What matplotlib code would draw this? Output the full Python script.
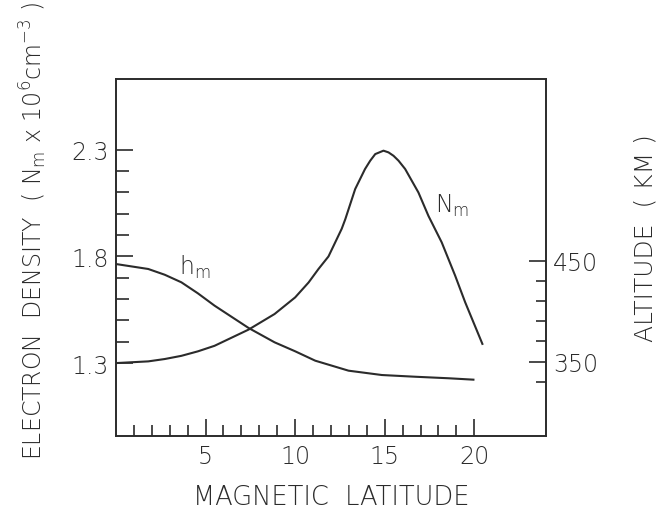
import matplotlib
matplotlib.use("Agg")
import matplotlib.pyplot as plt
from matplotlib.ticker import FixedLocator

plt.rcParams['font.family'] = ['DejaVu Sans']
plt.rcParams['font.weight'] = 'light'
plt.rcParams['mathtext.fontset'] = 'dejavusans'

ink = '#2b2b2b'

# peak electron density vs magnetic latitude (left axis)
lat_nm = [0, 1.8, 2.72, 3.65, 4.57, 5.5, 7.4, 8.85, 10.0, 10.75, 11.3, 11.86, 12.6, 12.8,
          13.35, 13.9, 14.19, 14.47, 14.93, 15.21, 15.49, 15.77, 16.14, 16.88, 17.44,
          18.18, 18.93, 19.49, 20.45]
nm = [1.30, 1.308, 1.319, 1.334, 1.355, 1.381, 1.457, 1.53, 1.608, 1.678, 1.741, 1.80, 1.93, 1.975,
      2.116, 2.21, 2.249, 2.28, 2.296, 2.288, 2.272, 2.249, 2.21, 2.10, 1.99,
      1.866, 1.71, 1.585, 1.39]

# peak height vs magnetic latitude (right axis, km)
lat_hm = [0, 1.8, 2.72, 3.65, 4.57, 5.5, 7.4, 8.85, 10.0, 11.12, 12.98, 14.84, 16.7, 18.55, 19.95]
hm = [446.7, 441.8, 436.1, 428.6, 417.7, 405.5, 383.4, 369.2, 360.3, 351.0, 341.1, 336.8,
      335.1, 333.6, 332.2]

x_major = [5, 10, 15, 20]
x_minor = [i for i in range(1, 21) if i % 5]
left_major = [1.3, 1.8, 2.3]
left_minor = [1.4, 1.5, 1.6, 1.7, 1.9, 2.0, 2.1, 2.2]
right_major = [350, 450]
right_minor = [330, 370, 390, 410, 430]

fig = plt.figure(figsize=(6.56, 5.10), dpi=100)
ax = fig.add_axes([0.1768, 0.1431, 0.6555, 0.700])
ax2 = ax.twinx()

ax.plot(lat_nm, nm, color=ink, lw=1.5)
ax2.plot(lat_hm, hm, color=ink, lw=1.5)

ax.set_xlim(0, 24)
ax.set_ylim(0.958, 2.632)
ax2.set_ylim(276.4, 629.9)

for a in (ax, ax2):
    for s in a.spines.values():
        s.set_linewidth(1.2)
        s.set_color(ink)

ax.xaxis.set_major_locator(FixedLocator(x_major))
ax.xaxis.set_minor_locator(FixedLocator(x_minor))
ax.yaxis.set_major_locator(FixedLocator(left_major))
ax.yaxis.set_minor_locator(FixedLocator(left_minor))
ax2.yaxis.set_major_locator(FixedLocator(right_major))
ax2.yaxis.set_minor_locator(FixedLocator(right_minor))

ax.set_xticklabels([str(v) for v in x_major])
ax.set_yticklabels([str(v) for v in left_major])
ax2.set_yticklabels([str(v) for v in right_major])

ax.tick_params(axis='x', which='both', direction='in', top=False, color=ink,
               labelcolor=ink, labelsize=17, pad=6)
ax.tick_params(axis='x', which='major', length=12, width=1.2)
ax.tick_params(axis='x', which='minor', length=8, width=1.2)
ax.tick_params(axis='y', which='both', direction='in', right=False, color=ink,
               labelcolor=ink, labelsize=17, pad=5)
ax.tick_params(axis='y', which='major', length=12, width=1.2)
ax.tick_params(axis='y', which='minor', length=9, width=1.2)
ax2.tick_params(axis='y', which='both', direction='in', color=ink,
                labelcolor=ink, labelsize=17, pad=5)
ax2.tick_params(axis='y', which='major', length=12, width=1.2)
ax2.tick_params(axis='y', which='minor', length=7, width=1.2)

# curve labels
ax.text(3.5, 1.755, r'h$_\mathrm{m}$', fontsize=17, color=ink, ha='left', va='center')
ax.text(17.8, 2.04, r'N$_\mathrm{m}$', fontsize=17, color=ink, ha='left', va='center')

# axis titles
fig.text(0.5046, 1 - 498 / 510, 'MAGNETIC  LATITUDE', fontsize=18.5, color=ink,
         ha='center', va='center')
fig.text(33 / 656, 1 - 231 / 510,
         r'ELECTRON  DENSITY  ( N$_\mathrm{m}$ x 10$^\mathrm{6}$cm$^\mathrm{-3}$ )',
         fontsize=17, color=ink, rotation=90, ha='center', va='center')
fig.text(645 / 656, 1 - 238 / 510, 'ALTITUDE  ( KM )', fontsize=18, color=ink,
         rotation=90, ha='center', va='center')

fig.savefig('out.png', dpi=100, facecolor='white')
